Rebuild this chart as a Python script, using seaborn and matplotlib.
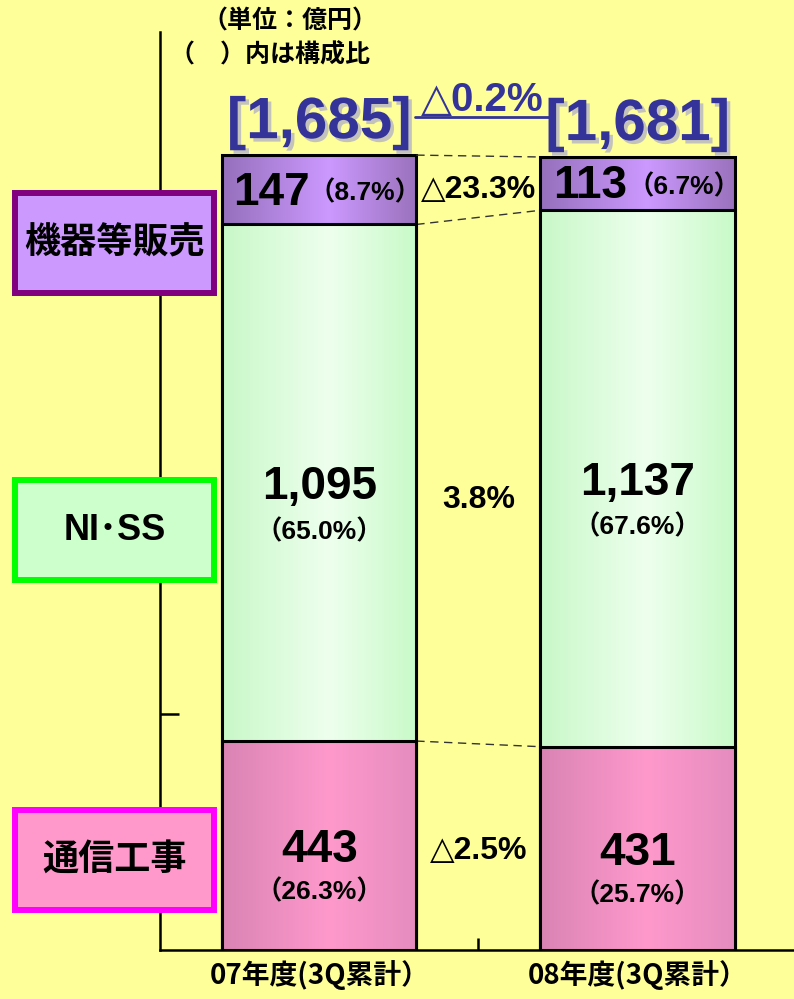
import matplotlib
matplotlib.use('Agg')
import matplotlib.pyplot as plt
import matplotlib.patheffects as pe
from matplotlib.colors import LinearSegmentedColormap
from matplotlib.patches import Rectangle
import numpy as np
import seaborn as sns

# data
periods = ['07年度(3Q累計）', '08年度(3Q累計）']
kouji = [443, 431]        # 通信工事
niss = [1095, 1137]       # NI・SS
kiki = [147, 113]         # 機器等販売
totals = [1685, 1681]
kouji_pct = ['（26.3%）', '（25.7%）']
niss_pct = ['（65.0%）', '（67.6%）']
kiki_pct = ['（8.7%）', '（6.7%）']
change_total = '△0.2%'
change_kiki = '△23.3%'
change_niss = '3.8%'
change_kouji = '△2.5%'
segment_names = ['通信工事', 'NI･SS', '機器等販売']

# colours: (left edge, centre, right edge)
kouji_cols = ('#D984B4', '#FF99CC', '#E58CBE')
niss_cols = ('#C8F8C8', '#EEFFEE', '#C8FAC8')
kiki_cols = ('#9570BC', '#CC99FF', '#9A72BC')
bg = '#FFFF99'
blue = '#333399'

sns.set_theme(style='white')
plt.rcParams['font.family'] = ['Liberation Sans', 'DejaVu Sans', 'Noto Sans CJK JP']
plt.rcParams['font.weight'] = 'bold'
plt.rcParams['text.color'] = 'black'
plt.rcParams['xtick.color'] = 'black'

fig = plt.figure(figsize=(7.94, 9.99), dpi=100, facecolor=bg)
ax = fig.add_axes([0.2015, 0.049, 0.802, 0.919])
ax.set_facecolor(bg)

# stacked bars drawn as overlapping cumulative layers
cum_mid = [k + n for k, n in zip(kouji, niss)]
layers = [(totals, kiki_cols), (cum_mid, niss_cols), (kouji, kouji_cols)]
for z, (heights, cols) in enumerate(layers):
    n0 = len(ax.patches)
    sns.barplot(x=periods, y=heights, ax=ax, width=0.61, color=cols[1],
                saturation=1, edgecolor='black', linewidth=2.2)
    cmap = LinearSegmentedColormap.from_list(
        'grad%d' % z, [(0, cols[0]), (0.55, cols[1]), (1, cols[2])])
    for p in ax.patches[n0:]:
        p.set_facecolor('none')
        p.set_zorder(2 * z + 2.5)
        x0, w, h = p.get_x(), p.get_width(), p.get_height()
        im = ax.imshow(np.linspace(0, 1, 256)[None, :], cmap=cmap,
                       extent=[x0, x0 + w, 0, h], aspect='auto',
                       interpolation='bilinear', zorder=2 * z + 2)
        im.set_clip_path(p)

ax.set_xlim(-0.5, 1.5)
ax.set_ylim(0, 1946)

# spines and ticks
for s in ['top', 'right']:
    ax.spines[s].set_visible(False)
for s in ['left', 'bottom']:
    ax.spines[s].set_color('black')
    ax.spines[s].set_linewidth(1.8)
ax.set_yticks([500, 1000, 1500])
ax.set_yticklabels([])
ax.tick_params(axis='y', left=True, direction='in', length=14, width=1.8,
               color='black')
ax.set_xticks([0, 1])
ax.set_xticklabels(periods, fontsize=20, fontweight='bold',
                   family='Noto Sans CJK JP')
ax.set_xticks([0.5], minor=True)
ax.tick_params(axis='x', which='major', length=0, pad=7)
ax.tick_params(axis='x', which='minor', bottom=True, direction='in',
               length=9, width=1.8, color='black')
ax.set_xlabel('')
ax.set_ylabel('')

# dashed connectors between bars
half = 0.305
for vals in [totals, cum_mid, kouji]:
    ax.plot([0 + half, 1 - half], vals, color='#333333', lw=1,
            dashes=(6, 4), zorder=3)

# segment labels
num_kw = dict(textcoords='offset points', ha='center', va='center',
              fontsize=33, fontweight='bold', zorder=10)
pct_kw = dict(textcoords='offset points', ha='center', va='center',
              fontsize=19, fontweight='bold', zorder=10)
for i in range(2):
    top_mid = kouji[i] + niss[i] + kiki[i] / 2
    ax.annotate(str(kiki[i]), (i - 0.15, top_mid), xytext=(0, -2), **num_kw)
    ax.annotate(kiki_pct[i], (i + 0.145, top_mid), xytext=(0, -2), **pct_kw)
    ax.annotate('{:,}'.format(niss[i]), (i, kouji[i] + niss[i] / 2),
                xytext=(0, -3), **num_kw)
    ax.annotate(niss_pct[i], (i, kouji[i] + niss[i] / 2),
                xytext=(0, -35), **pct_kw)
    ax.annotate(str(kouji[i]), (i, kouji[i] / 2), xytext=(0, -3), **num_kw)
    ax.annotate(kouji_pct[i], (i, kouji[i] / 2), xytext=(0, -33), **pct_kw)
    ax.annotate('[{:,}]'.format(totals[i]), (i, totals[i]),
                xytext=(0, 23), textcoords='offset points',
                ha='center', va='center', fontsize=42, color=blue,
                fontweight='bold', zorder=10,
                path_effects=[pe.withSimplePatchShadow(
                    offset=(2.5, -2.5), shadow_rgbFace='#AAAACC', alpha=0.7)])

# change labels between bars
ax.annotate(change_kiki, (0.5, kouji[0] + niss[0] + kiki[0] / 2),
            ha='center', va='center', fontsize=23, zorder=10)
ax.annotate(change_niss, (0.5, np.mean([k + n / 2 for k, n in zip(kouji, niss)])),
            xytext=(0, -14), textcoords='offset points',
            ha='center', va='center', fontsize=23, zorder=10)
ax.annotate(change_kouji, (0.5, np.mean(kouji) / 2),
            xytext=(0, -3), textcoords='offset points',
            ha='center', va='center', fontsize=23, zorder=10)
ax.annotate(change_total, (0.512, np.mean(totals)),
            xytext=(0, 40), textcoords='offset points',
            ha='center', va='center', fontsize=29, color=blue,
            fontweight='bold', zorder=10)
ax.plot([0.3, 0.725], [1765, 1765], color=blue, lw=2, zorder=10,
        clip_on=False)

# header
fig.text(0.365, 0.978, '（単位：億円）', ha='center', va='center',
         fontsize=18, family='Noto Sans CJK JP', fontweight='bold')
fig.text(0.214, 0.945, '（　）内は構成比', ha='left', va='center',
         fontsize=18, family='Noto Sans CJK JP', fontweight='bold')

# category boxes on the left
box_specs = [
    (segment_names[2], 190, '#CC99FF', '#800080'),
    (segment_names[1], 477, '#CCFFCC', '#00FF00'),
    (segment_names[0], 807, '#FF99CC', '#FF00FF'),
]
W, H = 794, 999
for name, top, face, edge in box_specs:
    x0, x1, y0, y1 = 15, 214, top + 3, top + 103
    fig.patches.append(Rectangle((x0 / W, 1 - y1 / H), (x1 - x0) / W,
                                 (y1 - y0) / H, transform=fig.transFigure,
                                 facecolor=face, edgecolor=edge, lw=4.3,
                                 zorder=20))
    fig.text((x0 + x1) / 2 / W, 1 - (y0 + y1) / 2 / H, name, ha='center',
             va='center', fontsize=26, fontweight='bold', zorder=21,
             family=['Noto Sans CJK JP'] if name != segment_names[1]
             else ['Liberation Sans', 'Noto Sans CJK JP'])

fig.savefig('out.png', dpi=100, facecolor=bg)
